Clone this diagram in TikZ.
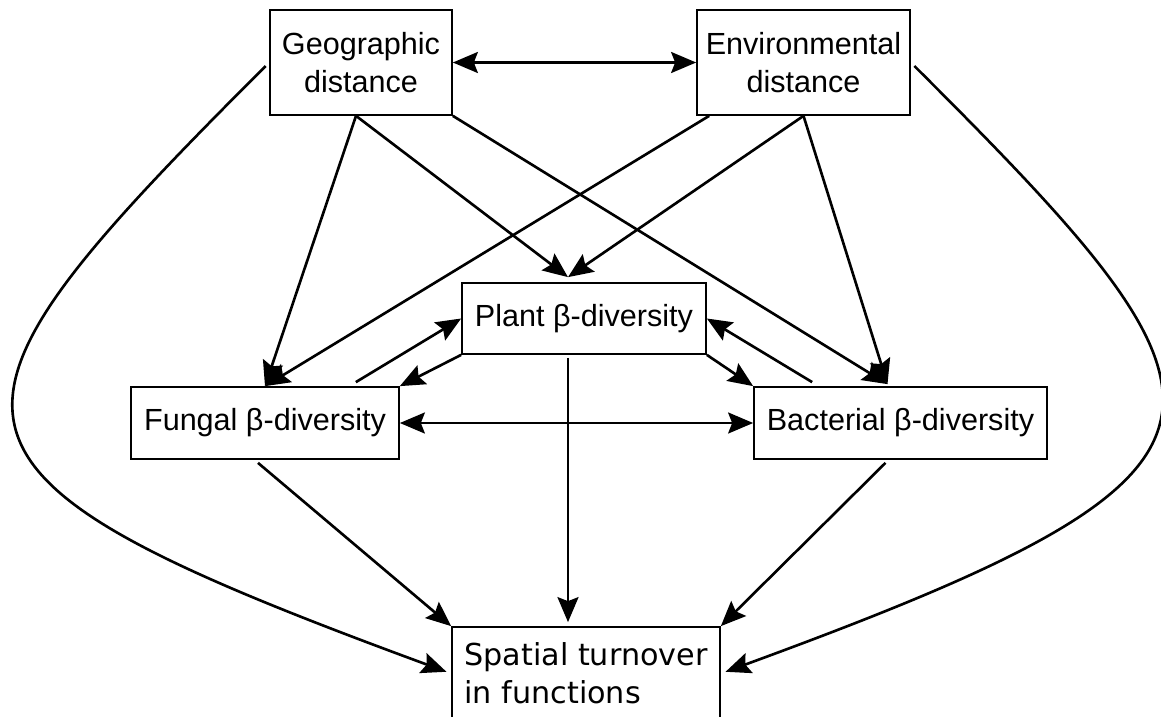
\documentclass[tikz,border=0pt]{standalone}
\usepackage{fontspec}
\setmainfont{Liberation Sans}
\newfontfamily\dejavu{DejaVu Sans}
\usetikzlibrary{arrows.meta, calc}

\begin{document}
\begin{tikzpicture}[x=0.02cm, y=-0.02cm,
        box/.style={draw, line width=1pt, inner sep=0pt, align=center,
            font=\fontsize{17.4pt}{21.6pt}\selectfont},
        link/.style={line width=1.5pt, ->,
            >={Stealth[length=0.5cm, width=0.42cm, inset=0.08cm]}},
        both/.style={link, <->}]
        \useasboundingbox (0,0) rectangle (1161,717);

        \node[box, minimum width=3.64cm, minimum height=2.1cm] (geo) at (361,62.5) {Geographic\\distance};
        \node[box, minimum width=4.26cm, minimum height=2.1cm] (env) at (803.5,62.5) {Environmental\\distance};
        \node[box, minimum width=4.88cm, minimum height=1.42cm] (plant) at (584,318.5) {Plant β-diversity};
        \node[box, minimum width=5.36cm, minimum height=1.44cm] (fungal) at (265,423) {Fungal β-diversity};
        \node[box, minimum width=5.86cm, minimum height=1.44cm] (bact) at (900.5,423) {Bacterial β-diversity};
        \node[box, minimum width=5.36cm, minimum height=1.86cm, align=left,
            font=\dejavu\fontsize{17.2pt}{21.6pt}\selectfont] (spatial) at (586,673.5) {Spatial turnover\\in functions};

        \draw[both] (geo.east) -- (env.west);
        \draw[both] (fungal.east) -- (bact.west);
        \draw[link] ([xshift=-0.1cm]geo.south) -- (fungal.north);
        \draw[link] ([xshift=-0.1cm]geo.south) -- ($(plant.north)+(-16,-5)$);
        \draw[link] (geo.south east) -- ($(bact.north)+(-13,-2)$);
        \draw[link] ($(env.south west)+(13,0)$) -- (fungal.north);
        \draw[link] (env.south) -- ($(plant.north)+(-16,-5)$);
        \draw[link] (env.south) -- ($(bact.north)+(-13,-2)$);
        \draw[link] ($(fungal.north east)+(-44,-4)$) -- (plant.west);
        \draw[link] (plant.south west) -- (fungal.north east);
        \draw[link] (plant.south east) -- (bact.north west);
        \draw[link] ($(bact.north west)+(59,-4)$) -- (plant.east);
        \draw[link] ($(plant.south)+(-16,3)$) -- ($(spatial.north)+(-18,-4)$);
        \draw[link] ($(fungal.south)+(-7,3)$) -- (spatial.north west);
        \draw[link] ($(bact.south)+(-15,3)$) -- (spatial.north east);

        % long curves round the sides
        \draw[link, shorten <=0.1cm, shorten >=0.1cm] (geo.west)
            .. controls +(-360,360) and +(-552,-203) .. (spatial.west);
        \draw[link, shorten <=0.1cm, shorten >=0.1cm] (env.east)
            .. controls +(350,349) and +(560,-205) .. (spatial.east);
    \end{tikzpicture}
\end{document}
